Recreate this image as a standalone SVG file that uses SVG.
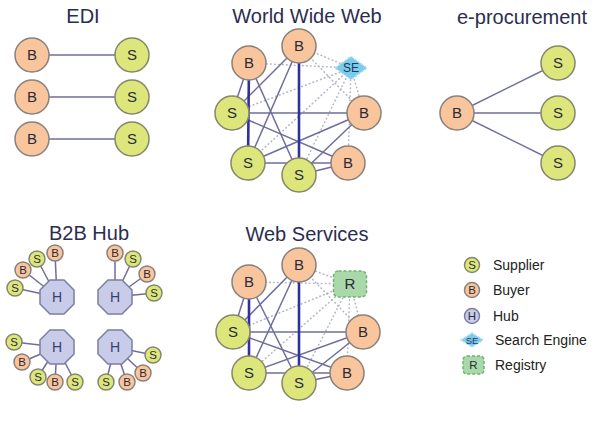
<svg xmlns="http://www.w3.org/2000/svg" xmlns:xlink="http://www.w3.org/1999/xlink" width="595" height="427" viewBox="0 0 595 427">
<style>
text{font-family:"Liberation Sans",Arial,sans-serif;text-anchor:middle;}
.title{font-size:20px;fill:#2b2d4f;}
.lg{font-size:14px;fill:#222;text-anchor:start;}
.b{fill:#f9c59d;stroke:#8a817c;stroke-width:1.5;}
.s{fill:#dde67b;stroke:#85866c;stroke-width:1.5;}
.h{fill:#c9cce8;stroke:#7b7ea3;stroke-width:1.5;}
.n{font-size:15px;fill:#2a2a3a;}
.sm{font-size:11.5px;fill:#2a2a3a;}
.hl{font-size:14px;fill:#3a3d70;}
.e{stroke:#6e6e9c;stroke-width:1.5;fill:none;}
.t{stroke:#2f2fa0;stroke-width:2.6;fill:none;}
.d{stroke:#b4b4c6;stroke-width:1.6;fill:none;stroke-dasharray:0.5 3.5;stroke-linecap:round;}
.se{fill:#7ccbea;stroke:#a9def2;stroke-width:1.5;stroke-dasharray:2 2;}
.r{fill:#a9d8a9;stroke:#72b072;stroke-width:1.5;stroke-dasharray:3 2;}
</style>
<defs>
<polygon id="oct" class="h" points="17,7.04 7.04,17 -7.04,17 -17,7.04 -17,-7.04 -7.04,-17 7.04,-17 17,-7.04"/>
</defs>
<rect width="595" height="427" fill="#ffffff"/>

<g id="titles">
<text class="title" x="83" y="23">EDI</text>
<text class="title" x="307" y="23">World Wide Web</text>
<text class="title" x="522" y="24">e-procurement</text>
<text class="title" x="89" y="240">B2B Hub</text>
<text class="title" x="307" y="241">Web Services</text>
</g>

<g id="connectors">
<!-- EDI -->
<line class="e" x1="32" y1="55" x2="132" y2="55"/>
<line class="e" x1="32" y1="97" x2="132" y2="97"/>
<line class="e" x1="32" y1="139" x2="132" y2="139"/>
<!-- e-procurement -->
<line class="e" x1="457" y1="113" x2="558" y2="63"/>
<line class="e" x1="457" y1="113" x2="558" y2="113"/>
<line class="e" x1="457" y1="113" x2="558" y2="163"/>
<!-- WWW dotted -->
<line class="d" x1="351" y1="68" x2="249" y2="63"/>
<line class="d" x1="351" y1="68" x2="299" y2="46"/>
<line class="d" x1="351" y1="68" x2="232" y2="113"/>
<line class="d" x1="351" y1="68" x2="248" y2="163"/>
<line class="d" x1="351" y1="68" x2="299" y2="175"/>
<line class="d" x1="351" y1="68" x2="364" y2="113"/>
<line class="d" x1="351" y1="68" x2="348" y2="163"/>
<line class="d" x1="299" y1="46" x2="364" y2="113"/>
<!-- WWW solid -->
<line class="e" x1="232" y1="113" x2="364" y2="113"/>
<line class="e" x1="248" y1="163" x2="348" y2="163"/>
<line class="e" x1="249" y1="63" x2="232" y2="113"/>
<line class="e" x1="299" y1="46" x2="232" y2="113"/>
<line class="e" x1="299" y1="46" x2="248" y2="163"/>
<line class="e" x1="249" y1="63" x2="299" y2="175"/>
<line class="e" x1="232" y1="113" x2="348" y2="163"/>
<line class="e" x1="248" y1="163" x2="364" y2="113"/>
<line class="e" x1="299" y1="175" x2="364" y2="113"/>
<line class="e" x1="299" y1="175" x2="348" y2="163"/>
<line class="t" x1="249" y1="63" x2="248" y2="163"/>
<line class="t" x1="299" y1="46" x2="299" y2="175"/>
<!-- Web Services dotted -->
<line class="d" x1="350" y1="284" x2="249" y2="282"/>
<line class="d" x1="350" y1="284" x2="299" y2="265"/>
<line class="d" x1="350" y1="284" x2="233" y2="332"/>
<line class="d" x1="350" y1="284" x2="249" y2="373"/>
<line class="d" x1="350" y1="284" x2="299" y2="383"/>
<line class="d" x1="350" y1="284" x2="363" y2="332"/>
<line class="d" x1="350" y1="284" x2="347" y2="373"/>
<line class="d" x1="299" y1="265" x2="363" y2="332"/>
<!-- Web Services solid -->
<line class="e" x1="233" y1="332" x2="363" y2="332"/>
<line class="e" x1="249" y1="373" x2="347" y2="373"/>
<line class="e" x1="249" y1="282" x2="233" y2="332"/>
<line class="e" x1="299" y1="265" x2="233" y2="332"/>
<line class="e" x1="299" y1="265" x2="249" y2="373"/>
<line class="e" x1="249" y1="282" x2="299" y2="383"/>
<line class="e" x1="233" y1="332" x2="347" y2="373"/>
<line class="e" x1="249" y1="373" x2="363" y2="332"/>
<line class="e" x1="299" y1="383" x2="363" y2="332"/>
<line class="e" x1="299" y1="383" x2="347" y2="373"/>
<line class="t" x1="249" y1="282" x2="249" y2="373"/>
<line class="t" x1="299" y1="265" x2="299" y2="383"/>
<!-- B2B hubs -->
<line class="e" x1="57" y1="297" x2="55" y2="253"/>
<line class="e" x1="57" y1="297" x2="37" y2="259"/>
<line class="e" x1="57" y1="297" x2="23" y2="270"/>
<line class="e" x1="57" y1="297" x2="15" y2="288"/>
<line class="e" x1="115" y1="297" x2="115" y2="253"/>
<line class="e" x1="115" y1="297" x2="133" y2="259"/>
<line class="e" x1="115" y1="297" x2="147" y2="274"/>
<line class="e" x1="115" y1="297" x2="154" y2="293"/>
<line class="e" x1="57" y1="347" x2="14" y2="342"/>
<line class="e" x1="57" y1="347" x2="22" y2="362"/>
<line class="e" x1="57" y1="347" x2="38" y2="377"/>
<line class="e" x1="57" y1="347" x2="55" y2="382"/>
<line class="e" x1="57" y1="347" x2="75" y2="382"/>
<line class="e" x1="115" y1="347" x2="153" y2="355"/>
<line class="e" x1="115" y1="347" x2="143" y2="373"/>
<line class="e" x1="115" y1="347" x2="127" y2="382"/>
<line class="e" x1="115" y1="347" x2="106" y2="382"/>
</g>

<!-- EDI nodes -->
<g id="edi-b1"><circle class="b" cx="32" cy="55" r="17"/><text class="n" x="32" y="60.4">B</text></g>
<g id="edi-b2"><circle class="b" cx="32" cy="97" r="17"/><text class="n" x="32" y="102.4">B</text></g>
<g id="edi-b3"><circle class="b" cx="32" cy="139" r="17"/><text class="n" x="32" y="144.4">B</text></g>
<g id="edi-s1"><circle class="s" cx="132" cy="55" r="17"/><text class="n" x="132" y="60.4">S</text></g>
<g id="edi-s2"><circle class="s" cx="132" cy="97" r="17"/><text class="n" x="132" y="102.4">S</text></g>
<g id="edi-s3"><circle class="s" cx="132" cy="139" r="17"/><text class="n" x="132" y="144.4">S</text></g>

<!-- WWW nodes -->
<g id="www-se"><polygon class="se" points="335,68 351,56.5 367,68 351,79.5"/><text x="351" y="72.3" style="font-size:12px;fill:#1d3a5a">SE</text></g>
<g id="www-btop"><circle class="b" cx="299" cy="46" r="17"/><text class="n" x="299" y="51.4">B</text></g>
<g id="www-bleft"><circle class="b" cx="249" cy="63" r="17"/><text class="n" x="249" y="68.4">B</text></g>
<g id="www-sleft"><circle class="s" cx="232" cy="113" r="17"/><text class="n" x="232" y="118.4">S</text></g>
<g id="www-bright"><circle class="b" cx="364" cy="113" r="17"/><text class="n" x="364" y="118.4">B</text></g>
<g id="www-sbl"><circle class="s" cx="248" cy="163" r="17"/><text class="n" x="248" y="168.4">S</text></g>
<g id="www-bbr"><circle class="b" cx="348" cy="163" r="17"/><text class="n" x="348" y="168.4">B</text></g>
<g id="www-sbottom"><circle class="s" cx="299" cy="175" r="17"/><text class="n" x="299" y="180.4">S</text></g>

<!-- e-procurement nodes -->
<g id="ep-b"><circle class="b" cx="457" cy="113" r="17"/><text class="n" x="457" y="118.4">B</text></g>
<g id="ep-s1"><circle class="s" cx="558" cy="63" r="17"/><text class="n" x="558" y="68.4">S</text></g>
<g id="ep-s2"><circle class="s" cx="558" cy="113" r="17"/><text class="n" x="558" y="118.4">S</text></g>
<g id="ep-s3"><circle class="s" cx="558" cy="163" r="17"/><text class="n" x="558" y="168.4">S</text></g>

<!-- Web Services nodes -->
<g id="ws-r"><rect class="r" x="333.5" y="271" width="33" height="26" rx="5"/><text class="n" x="350" y="289.4">R</text></g>
<g id="ws-btop"><circle class="b" cx="299" cy="265" r="17"/><text class="n" x="299" y="270.4">B</text></g>
<g id="ws-bleft"><circle class="b" cx="249" cy="282" r="17"/><text class="n" x="249" y="287.4">B</text></g>
<g id="ws-sleft"><circle class="s" cx="233" cy="332" r="17"/><text class="n" x="233" y="337.4">S</text></g>
<g id="ws-bright"><circle class="b" cx="363" cy="332" r="17"/><text class="n" x="363" y="337.4">B</text></g>
<g id="ws-sbl"><circle class="s" cx="249" cy="373" r="17"/><text class="n" x="249" y="378.4">S</text></g>
<g id="ws-bbr"><circle class="b" cx="347" cy="373" r="17"/><text class="n" x="347" y="378.4">B</text></g>
<g id="ws-sbottom"><circle class="s" cx="299" cy="383" r="17"/><text class="n" x="299" y="388.4">S</text></g>

<!-- B2B hubs -->
<g id="hub1"><use xlink:href="#oct" href="#oct" x="57" y="297"/><text class="hl" x="57" y="302">H</text></g>
<g id="hub1-b1"><circle class="b" cx="55" cy="253" r="8"/><text class="sm" x="55" y="257.1">B</text></g>
<g id="hub1-s1"><circle class="s" cx="37" cy="259" r="8"/><text class="sm" x="37" y="263.1">S</text></g>
<g id="hub1-b2"><circle class="b" cx="23" cy="270" r="8"/><text class="sm" x="23" y="274.1">B</text></g>
<g id="hub1-s2"><circle class="s" cx="15" cy="288" r="8"/><text class="sm" x="15" y="292.1">S</text></g>

<g id="hub2"><use xlink:href="#oct" href="#oct" x="115" y="297"/><text class="hl" x="115" y="302">H</text></g>
<g id="hub2-b1"><circle class="b" cx="115" cy="253" r="8"/><text class="sm" x="115" y="257.1">B</text></g>
<g id="hub2-s1"><circle class="s" cx="133" cy="259" r="8"/><text class="sm" x="133" y="263.1">S</text></g>
<g id="hub2-b2"><circle class="b" cx="147" cy="274" r="8"/><text class="sm" x="147" y="278.1">B</text></g>
<g id="hub2-s2"><circle class="s" cx="154" cy="293" r="8"/><text class="sm" x="154" y="297.1">S</text></g>

<g id="hub3"><use xlink:href="#oct" href="#oct" x="57" y="347"/><text class="hl" x="57" y="352">H</text></g>
<g id="hub3-s1"><circle class="s" cx="14" cy="342" r="8"/><text class="sm" x="14" y="346.1">S</text></g>
<g id="hub3-b1"><circle class="b" cx="22" cy="362" r="8"/><text class="sm" x="22" y="366.1">B</text></g>
<g id="hub3-s2"><circle class="s" cx="38" cy="377" r="8"/><text class="sm" x="38" y="381.1">S</text></g>
<g id="hub3-b2"><circle class="b" cx="55" cy="382" r="8"/><text class="sm" x="55" y="386.1">B</text></g>
<g id="hub3-s3"><circle class="s" cx="75" cy="382" r="8"/><text class="sm" x="75" y="386.1">S</text></g>

<g id="hub4"><use xlink:href="#oct" href="#oct" x="115" y="347"/><text class="hl" x="115" y="352">H</text></g>
<g id="hub4-s1"><circle class="s" cx="153" cy="355" r="8"/><text class="sm" x="153" y="359.1">S</text></g>
<g id="hub4-b1"><circle class="b" cx="143" cy="373" r="8"/><text class="sm" x="143" y="377.1">B</text></g>
<g id="hub4-b2"><circle class="b" cx="127" cy="382" r="8"/><text class="sm" x="127" y="386.1">B</text></g>
<g id="hub4-s2"><circle class="s" cx="106" cy="382" r="8"/><text class="sm" x="106" y="386.1">S</text></g>

<!-- Legend -->
<g id="legend">
<circle class="s" cx="472" cy="265" r="7.5"/><text class="sm" x="472" y="269.1">S</text>
<text class="lg" x="493" y="270">Supplier</text>
<circle class="b" cx="472" cy="290" r="7.5"/><text class="sm" x="472" y="294.1">B</text>
<text class="lg" x="493" y="295">Buyer</text>
<circle class="h" cx="472" cy="316" r="7.5"/><text class="sm" x="472" y="320.1">H</text>
<text class="lg" x="493" y="321">Hub</text>
<polygon class="se" points="461,340 472,333 483,340 472,347"/><text x="472" y="343.5" style="font-size:9.5px;fill:#1d3a5a">SE</text>
<text class="lg" x="495" y="345">Search Engine</text>
<rect class="r" x="463" y="356" width="21" height="18" rx="4"/><text class="sm" x="473.5" y="369.1">R</text>
<text class="lg" x="495" y="370">Registry</text>
</g>
</svg>
